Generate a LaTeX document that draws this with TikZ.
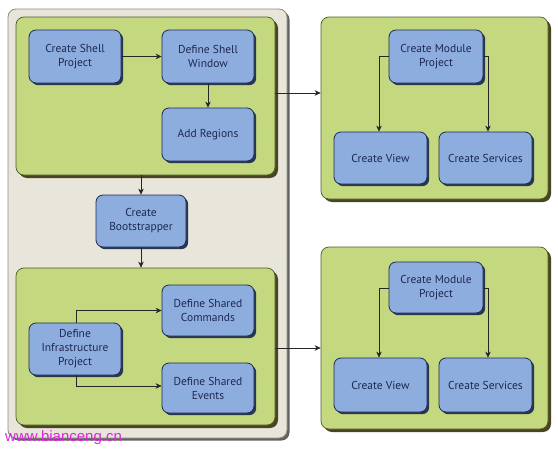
\documentclass[tikz,border=0pt]{standalone}
\usepackage{fontspec}
\setmainfont{PT Sans}
\newfontfamily\wmfont{Liberation Sans}
\usetikzlibrary{arrows.meta,shadows,calc}
\definecolor{boxblue}{HTML}{8EADDF}
\definecolor{boxline}{HTML}{1E2A4E}
\definecolor{boxshadow}{HTML}{2A3550}
\definecolor{panelgreen}{HTML}{C4D97F}
\definecolor{panelline}{HTML}{4E5A2A}
\definecolor{panelshadow}{HTML}{4A4422}
\definecolor{beige}{HTML}{E8E6DA}
\definecolor{beigeline}{HTML}{8C8C84}
\definecolor{textnavy}{HTML}{1E2850}
\definecolor{wm}{HTML}{E020E0}
\tikzset{
  stepbox/.style={rectangle, rounded corners=7pt, fill=boxblue, draw=boxline,
    line width=0.8pt, text=textnavy, align=center, font=\fontsize{11.5}{14}\selectfont,
    inner sep=2pt,
    drop shadow={shadow xshift=2.2pt, shadow yshift=-2.2pt, fill=boxshadow, opacity=1}},
  panel/.style={rectangle, rounded corners=8pt, fill=panelgreen, draw=panelline,
    line width=0.7pt, inner sep=0pt,
    drop shadow={shadow xshift=3pt, shadow yshift=-3pt, fill=panelshadow, opacity=1}},
  outerpanel/.style={rectangle, rounded corners=8pt, fill=beige, draw=beigeline,
    line width=0.8pt, inner sep=0pt,
    drop shadow={shadow xshift=2.5pt, shadow yshift=-2.5pt, fill=beigeline!70!black, opacity=1}},
  arr/.style={draw=black!85, line width=0.6pt, -{Stealth[length=6pt,width=5.5pt]}},
}
\begin{document}
\begin{tikzpicture}[x=1pt,y=-1pt]
\useasboundingbox (0,0) rectangle (558,450);
% panels
\node[outerpanel, minimum width=279pt, minimum height=429pt] (outer) at (147.5,223.5) {};
\node[panel, minimum width=259pt, minimum height=158pt] (g1) at (145.5,96) {};
\node[panel, minimum width=259pt, minimum height=157pt] (g2) at (145.5,346.5) {};
\node[panel, minimum width=227pt, minimum height=182pt] (g3) at (434.5,108) {};
\node[panel, minimum width=227pt, minimum height=182pt] (g4) at (434.5,338) {};
% boxes
\node[stepbox, minimum width=92pt, minimum height=53pt] (csp) at (75,56.5) {Create Shell\\Project};
\node[stepbox, minimum width=92pt, minimum height=53pt] (dsw) at (208,56.5) {Define Shell\\Window};
\node[stepbox, minimum width=92pt, minimum height=53pt] (ar) at (208,134.5) {Add Regions};
\node[stepbox, minimum width=90pt, minimum height=52pt] (cb) at (141,221) {Create\\Bootstrapper};
\node[stepbox, minimum width=92pt, minimum height=51pt] (dsc) at (208,310.5) {Define Shared\\Commands};
\node[stepbox, minimum width=92pt, minimum height=52pt] (dip) at (75,349) {Define\\Infrastructure\\Project};
\node[stepbox, minimum width=92pt, minimum height=50pt] (dse) at (208,388) {Define Shared\\Events};
\node[stepbox, minimum width=94pt, minimum height=53pt] (cmpa) at (436,56.5) {Create Module\\Project};
\node[stepbox, minimum width=93pt, minimum height=52pt] (cva) at (380.5,158) {Create View};
\node[stepbox, minimum width=93pt, minimum height=52pt] (csa) at (485.5,158) {Create Services};
\node[stepbox, minimum width=94pt, minimum height=51pt] (cmpb) at (436,287.5) {Create Module\\Project};
\node[stepbox, minimum width=93pt, minimum height=54pt] (cvb) at (380.5,385) {Create View};
\node[stepbox, minimum width=93pt, minimum height=54pt] (csb) at (485.5,385) {Create Services};
% connectors
\draw[arr] (csp.east) -- (dsw.west);
\draw[arr] (dsw.south) -- (ar.north);
\draw[arr] (cb.north |- g1.south) -- (cb.north);
\draw[arr] (cb.south) -- (cb.south |- g2.north);
\draw[arr] ($(dip.north west)!0.51!(dip.north east)$) |- ($(dsc.north west)!0.5!(dsc.south west)$);
\draw[arr] ($(dip.south west)!0.51!(dip.south east)$) |- ($(dse.north west)!0.46!(dse.south west)$);
\draw[arr] (g1.east |- 0,93) -- (g3.west |- 0,93);
\draw[arr] (g2.east |- 0,348) -- (g4.west |- 0,348);
\coordinate (la) at (379,56.5);
\coordinate (ra) at (488,56.5);
\draw[arr] (cmpa.west) -- (la) -- (la |- cva.north);
\draw[arr] (cmpa.east) -- (ra) -- (ra |- csa.north);
\coordinate (lb) at (379,288);
\coordinate (rb) at (488,288);
\draw[arr] (cmpb.west |- lb) -- (lb) -- (lb |- cvb.north);
\draw[arr] (cmpb.east |- rb) -- (rb) -- (rb |- csb.north);
% watermark
\node[anchor=base west, inner sep=0pt, text=wm, font=\wmfont\fontsize{15}{15}\selectfont] (wmk) at (5,441) {www.bianceng.cn};
\end{tikzpicture}
\end{document}
